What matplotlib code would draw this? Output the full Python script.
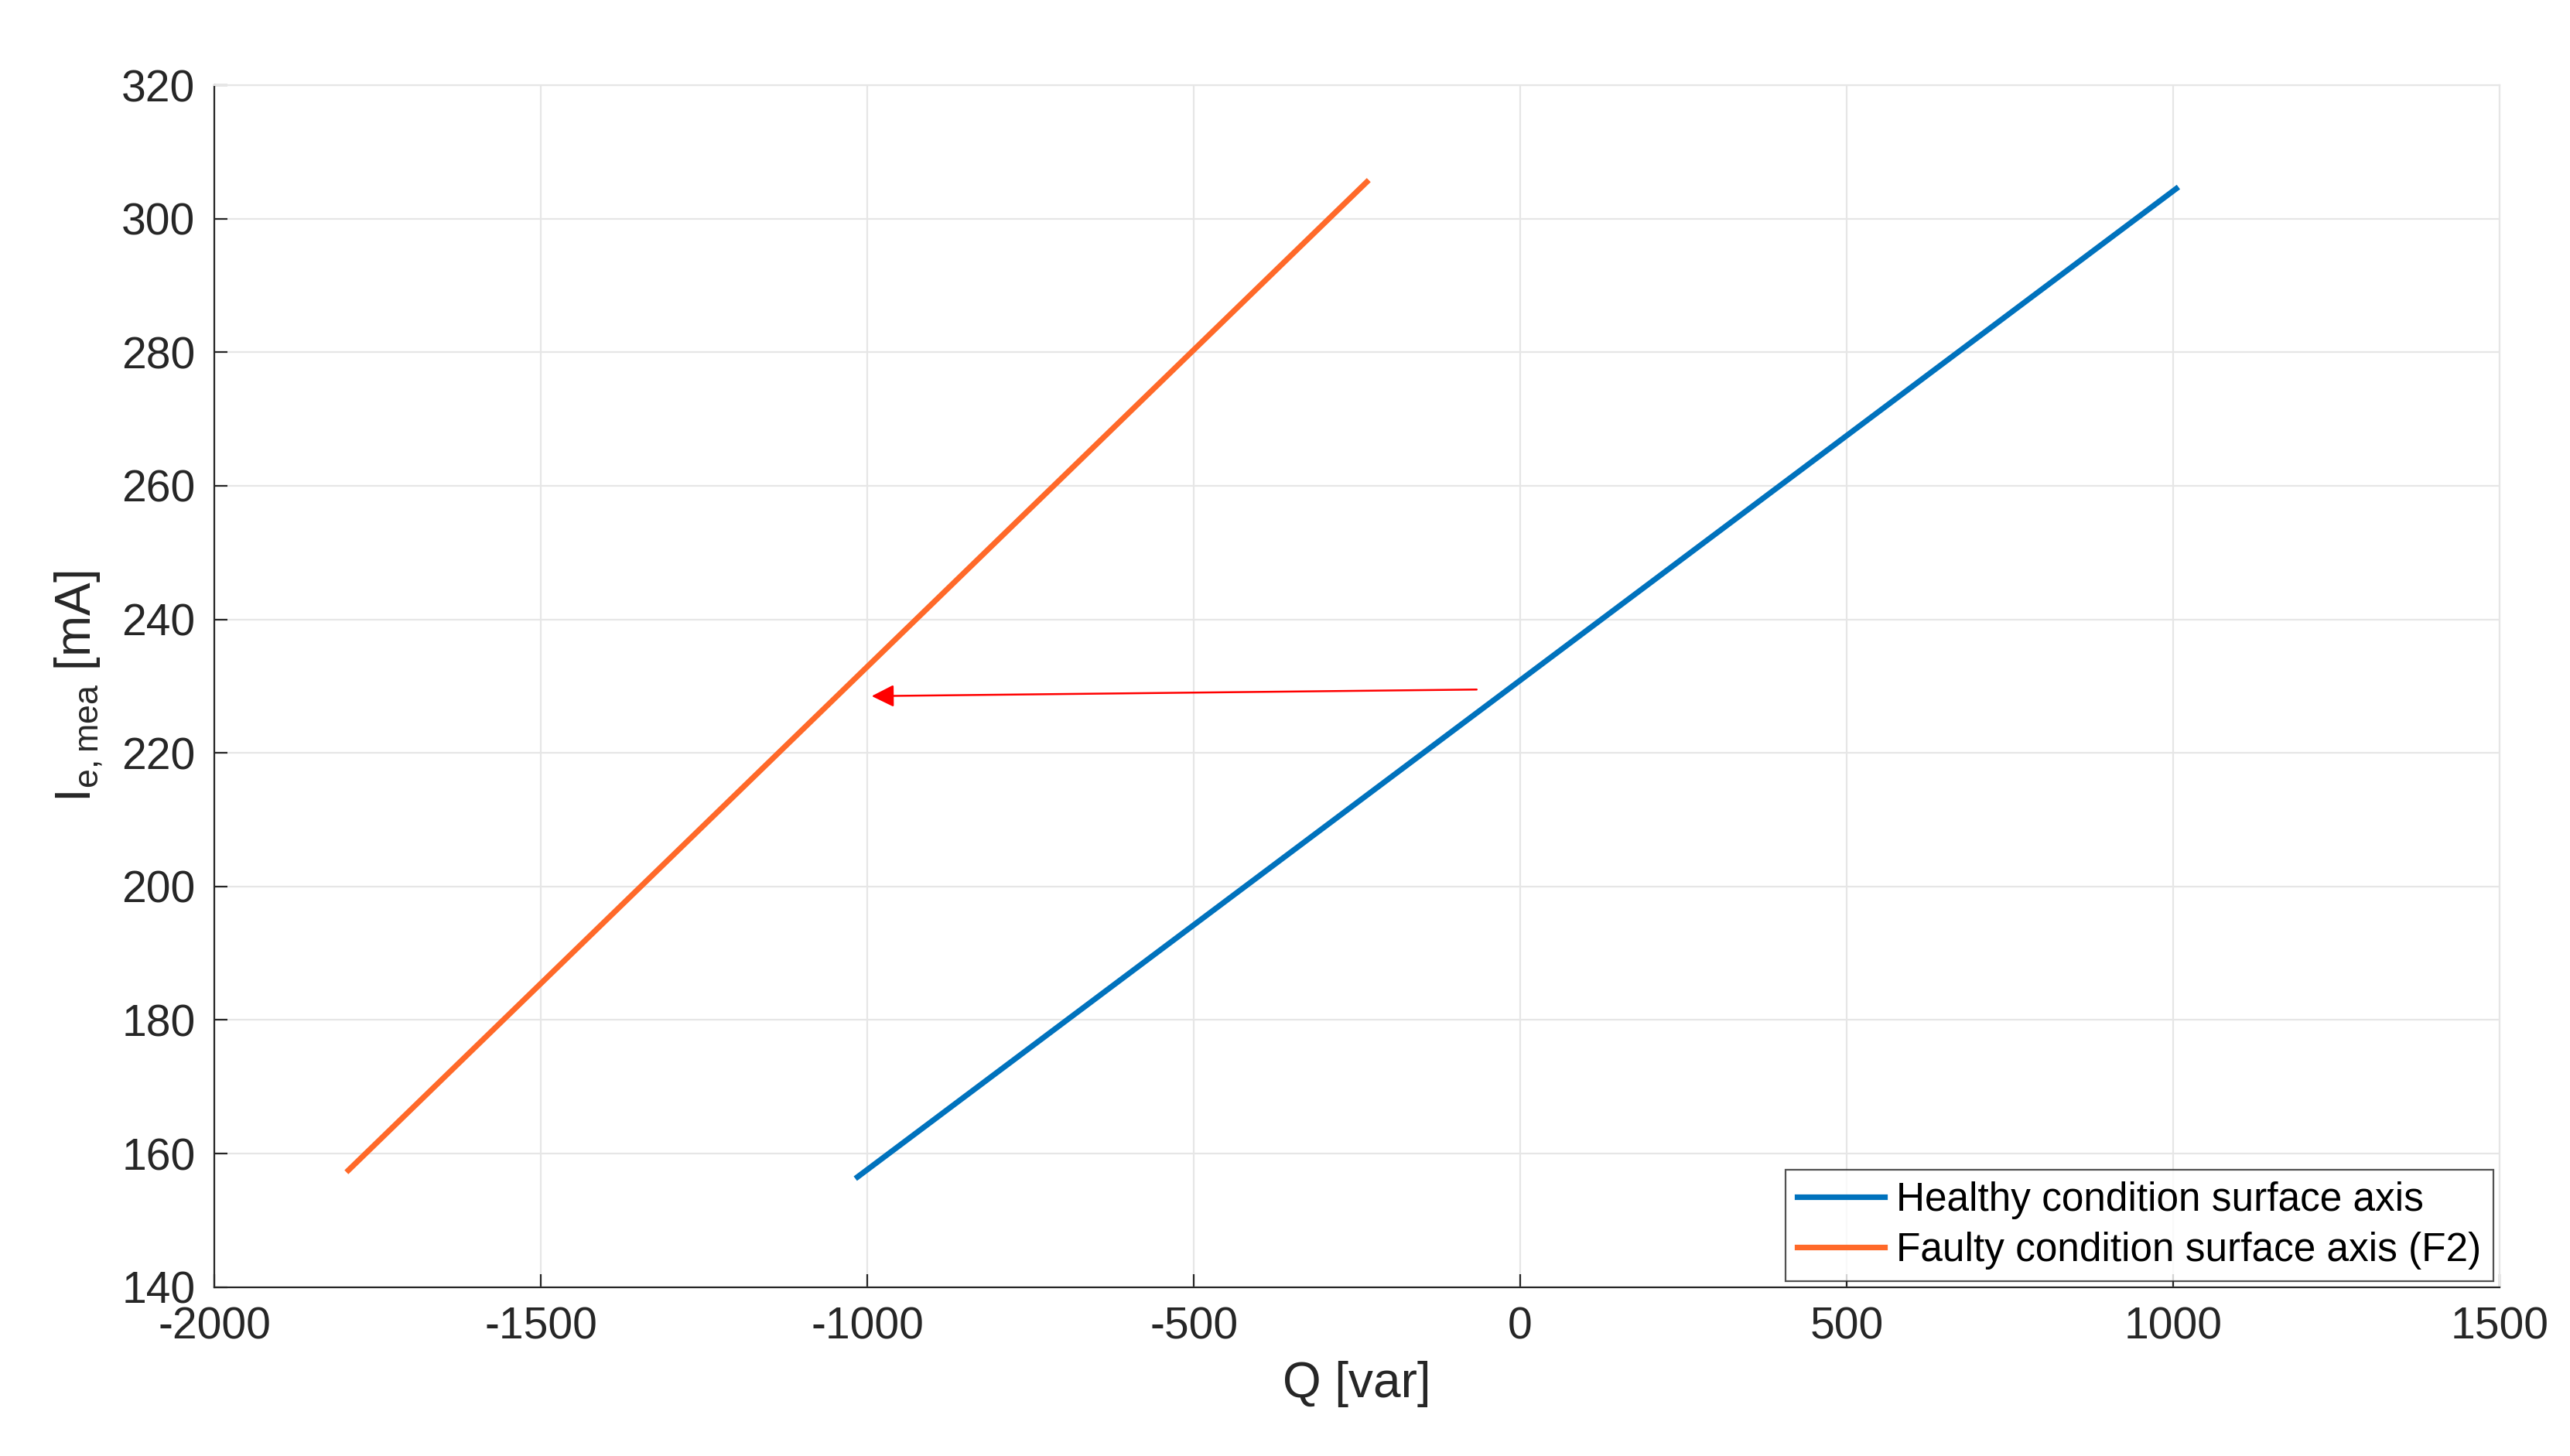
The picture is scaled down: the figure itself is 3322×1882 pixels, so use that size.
import matplotlib
matplotlib.use("Agg")
import matplotlib.pyplot as plt

plt.rcParams["font.family"] = ["Liberation Sans", "DejaVu Sans"]
plt.rcParams["axes.unicode_minus"] = False

# healthy and faulty surface axes (endpoints)
q_healthy = [-1015, 1005]
ie_healthy = [156.5, 304.5]
q_faulty = [-1795, -235]
ie_faulty = [157.5, 305.5]

# shift arrow
arrow_start = (-60, 229.5)
arrow_end = (-1000, 228.5)

fig = plt.figure(figsize=(16.61, 9.41), dpi=200)
ax = fig.add_axes([0.0835, 0.116, 0.889, 0.8255])

ax.plot(q_healthy, ie_healthy, color="#0072BD", lw=2.6,
        label="Healthy condition surface axis")
ax.plot(q_faulty, ie_faulty, color="#FF6929", lw=2.6,
        label="Faulty condition surface axis (F2)")
ax.annotate("", xy=arrow_end, xytext=arrow_start,
            arrowprops=dict(arrowstyle="-|>", color="red", lw=0.9,
                            mutation_scale=22))

ax.set_xlim(-2000, 1500)
ax.set_ylim(140, 320)
ax.set_xticks(range(-2000, 1501, 500))
ax.set_yticks(range(140, 321, 20))
ax.grid(True, color="#e6e6e6", lw=0.8)
ax.set_axisbelow(True)
for s in ax.spines.values():
    s.set_color("#262626")
    s.set_linewidth(0.8)
ax.spines["top"].set_color("#e6e6e6")
ax.spines["right"].set_color("#e6e6e6")
ax.tick_params(labelsize=20.5, colors="#262626", direction="in", length=6,
               pad=9, top=False, right=False)

ax.set_xlabel("Q [var]", fontsize=23, color="#262626", labelpad=6)
ax.set_ylabel(r"I$_{\mathregular{e,mea}}$ [mA]", fontsize=23, color="#262626",
              labelpad=8)

leg = ax.legend(loc="lower right", fontsize=18.5, fancybox=False,
                borderaxespad=0.15, handlelength=2.2, handletextpad=0.3,
                borderpad=0.3, labelspacing=0.3)
leg.get_frame().set_edgecolor("#262626")
leg.get_frame().set_linewidth(0.8)

fig.savefig("out.png", dpi=200)
